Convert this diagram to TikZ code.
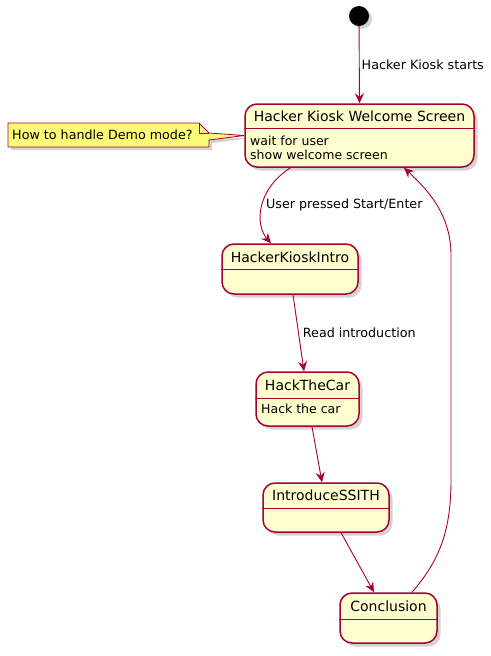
\documentclass[tikz,border=0pt]{standalone}
\usepackage{fontspec}
\setmainfont{DejaVu Sans}
\usetikzlibrary{arrows.meta,shadows}
\definecolor{umlred}{HTML}{A80036}
\definecolor{umlfill}{HTML}{FEFECE}
\definecolor{umlnote}{HTML}{FBFB77}

\begin{document}
\begin{tikzpicture}[x=1pt,y=-1pt,
  state/.style={draw=umlred,fill=umlfill,line width=1.5pt,rounded corners=12pt,
    inner sep=0pt,drop shadow={shadow xshift=3.5pt,shadow yshift=-3.5pt,opacity=0.35}},
  sep/.style={draw=umlred,line width=1.3pt},
  title/.style={inner sep=0pt,font=\fontsize{14}{16}\selectfont},
  body/.style={inner sep=0pt,anchor=west,align=left,font=\fontsize{12.5}{14}\selectfont},
  lbl/.style={inner sep=0pt,anchor=west,font=\fontsize{12.7}{15}\selectfont},
  trans/.style={draw=umlred,line width=0.9pt,-{Stealth[length=10pt,width=9pt,inset=3.5pt]}}]
  \useasboundingbox (0,0) rectangle (490,656);

  % initial state
  \node[circle,fill=black,minimum size=20pt,inner sep=0pt,
    drop shadow={shadow xshift=3pt,shadow yshift=-3pt,opacity=0.35}] (start) at (359,16) {};

  % Hacker Kiosk Welcome Screen
  \node[state,minimum width=229pt,minimum height=63pt] (welcome) at (359.5,135.5) {};
  \draw[sep] ([yshift=-25pt]welcome.north west) -- ([yshift=-25pt]welcome.north east);
  \node[title] at (359.5,116) {Hacker Kiosk Welcome Screen};
  \node[body] at (250,141) {wait for user};
  \node[body] at (250,155) {show welcome screen};

  % HackerKioskIntro
  \node[state,minimum width=136pt,minimum height=50pt] (intro) at (290,269) {};
  \draw[sep] ([yshift=-26pt]intro.north west) -- ([yshift=-26pt]intro.north east);
  \node[title] at (290,257) {HackerKioskIntro};

  % HackTheCar
  \node[state,minimum width=103pt,minimum height=54pt] (car) at (307.5,399) {};
  \draw[sep] ([yshift=-27pt]car.north west) -- ([yshift=-27pt]car.north east);
  \node[title] at (307.5,385) {HackTheCar};
  \node[body] at (261,409) {Hack the car};

  % IntroduceSSITH
  \node[state,minimum width=126pt,minimum height=49pt] (ssith) at (326,507.5) {};
  \draw[sep] ([yshift=-26pt]ssith.north west) -- ([yshift=-26pt]ssith.north east);
  \node[title] at (326,495) {IntroduceSSITH};

  % Conclusion
  \node[state,minimum width=97pt,minimum height=50pt] (concl) at (388.5,618) {};
  \draw[sep] ([yshift=-27pt]concl.north west) -- ([yshift=-27pt]concl.north east);
  \node[title] at (388.5,606) {Conclusion};

  % note
  \draw[draw=umlred,fill=umlnote,line width=0.8pt,
    drop shadow={shadow xshift=3pt,shadow yshift=-3pt,opacity=0.35}]
    (8,123) -- (199,123) -- (209,133) -- (welcome.west) -- (209,140) -- (209,147) -- (8,147) -- cycle;
  \draw[draw=umlred,line width=0.8pt] (199,123) -- (199,133) -- (209,133);
  \node[lbl] (note) at (12,135) {How to handle Demo mode?};

  % transitions
  \draw[trans] (start) -- (welcome.north)
    node[lbl,pos=0.5,xshift=2pt] {Hacker Kiosk starts};
  \draw[trans] ([xshift=-69pt]welcome.south) .. controls (256,190) and (255,225) .. ([xshift=-19pt]intro.north);
  \node[lbl] at (266,205) {User pressed Start/Enter};
  \draw[trans] ([xshift=3pt]intro.south) -- ([xshift=-3.5pt]car.north)
    node[lbl,pos=0.5,xshift=4pt] {Read introduction};
  \draw[trans] ([xshift=4.5pt]car.south) -- ([xshift=-4pt]ssith.north);
  \draw[trans] ([xshift=15pt]ssith.south) -- ([xshift=-14.5pt]concl.north);
  \draw[trans] ([xshift=23.5pt]concl.north) .. controls (440,560) and (451,530) .. (451,480)
    -- (451,255) .. controls (451,215) and (428,190) .. ([xshift=44.5pt]welcome.south);
\end{tikzpicture}
\end{document}
